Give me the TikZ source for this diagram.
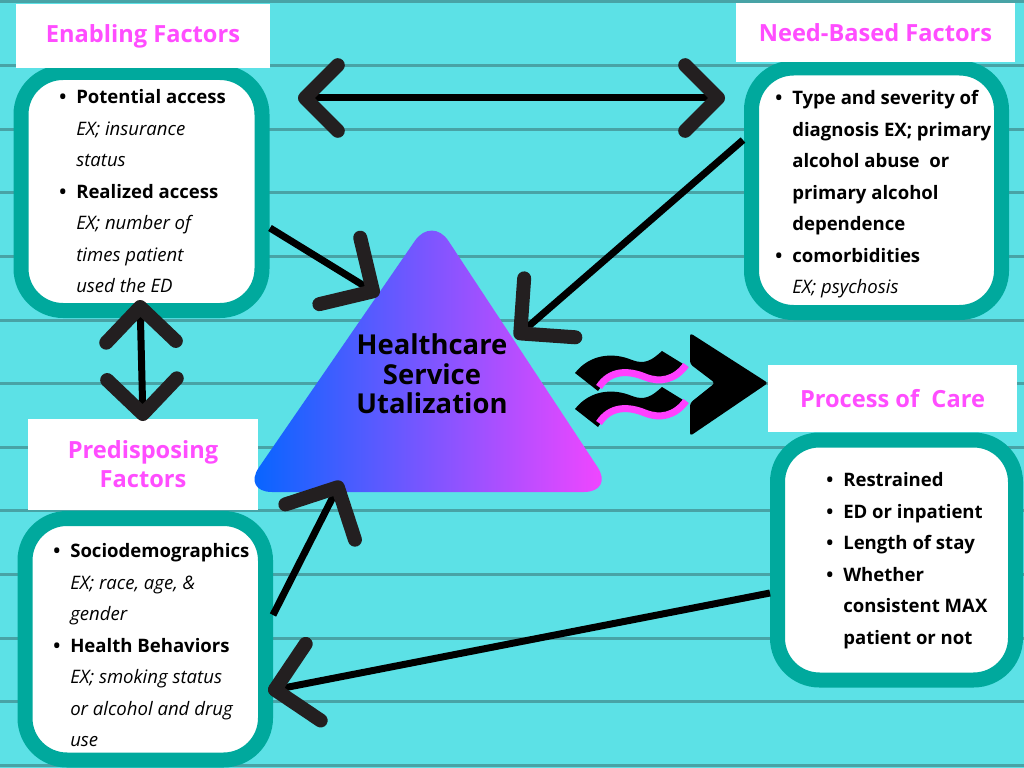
\documentclass[tikz,border=0pt]{standalone}
\usepackage{fontspec}
\setmainfont{Open Sans}
\usetikzlibrary{arrows.meta}

\definecolor{bgcyan}{HTML}{5CE1E6}
\definecolor{stripeteal}{HTML}{48A3A6}
\definecolor{boxteal}{HTML}{00A99D}
\definecolor{titlepink}{HTML}{FF4DFF}
\definecolor{chevdark}{HTML}{231F20}
\definecolor{triblue}{HTML}{0066FF}
\definecolor{tripink}{HTML}{F845FF}
\definecolor{wavepink}{HTML}{FF40FF}

\newlength{\px}\setlength{\px}{0.025cm}
\newcommand{\bl}{\llap{\textbf{\textbullet}\hspace{7pt}}}

\tikzset{
  factorbox/.style={draw=boxteal, line width=15\px, fill=white, rounded corners=42\px},
  titlebox/.style={fill=white, text=titlepink, align=center, inner sep=0pt,
    font=\fontsize{16.8}{20.5}\selectfont\bfseries},
  itemtext/.style={font=\fontsize{13.2}{22.4}\selectfont, align=left, inner sep=0pt, anchor=north west},
  link/.style={line width=7\px, black},
  Chev/.tip={Straight Barb[length=0.975cm 0 0, width=1.95cm 0 0, line width=0.35cm 0 0, round, color=chevdark]},
  ChevS/.tip={Straight Barb[length=0.82cm 0 0, width=1.64cm 0 0, line width=0.35cm 0 0, round, color=chevdark]},
  ChevM/.tip={Straight Barb[length=0.87cm 0 0, width=1.74cm 0 0, line width=0.35cm 0 0, round, color=chevdark]},
}

\begin{document}
\begin{tikzpicture}[x=0.025cm, y=-0.025cm]
\useasboundingbox (0,0) rectangle (1024,768);
\fill[bgcyan] (0,0) rectangle (1024,768);
\foreach \k in {0,...,12}
  \draw[stripeteal, line width=3\px] (0,2+63.6*\k) -- (1024,2+63.6*\k);

% factor boxes
\node[factorbox, minimum width=241\px, minimum height=238\px] (enabbox) at (141.5,191.5) {};
\node[factorbox, minimum width=250\px, minimum height=244.5\px] (needbox) at (876.5,190.25) {};
\node[factorbox, minimum width=240.5\px, minimum height=241.5\px] (predbox) at (145.25,639.25) {};
\node[factorbox, minimum width=238\px, minimum height=240\px] (procbox) at (896.5,560) {};

% titles
\node[titlebox, minimum width=254\px, minimum height=64\px] (enabtitle) at (143,36) {Enabling Factors};
\node[titlebox, minimum width=279\px, minimum height=59\px] (needtitle) at (875.5,32.5) {Need-Based Factors};
\node[titlebox, minimum width=230\px, minimum height=91\px] (predtitle) at (143,464.5) {Predisposing\\Factors};
\node[titlebox, minimum width=249\px, minimum height=67\px] (proctitle) at (892.5,398.5) {Process of\ \ Care};

% box contents
\node[itemtext] (enabtext) at (76,89.5) {\bl\textbf{Potential access}\\
  \textit{EX; insurance}\\
  \textit{status}\\
  \bl\textbf{Realized access}\\
  \textit{EX; number of}\\
  \textit{times patient}\\
  \textit{used the ED}};
\node[itemtext] (needtext) at (792,90.5) {\bl\textbf{Type and severity of}\\
  \textbf{diagnosis EX; primary}\\
  \textbf{alcohol abuse\ \ or}\\
  \textbf{primary alcohol}\\
  \textbf{dependence}\\
  \bl\textbf{comorbidities}\\
  \textit{EX; psychosis}};
\node[itemtext] (predtext) at (70,543.5) {\bl\textbf{Sociodemographics}\\
  \textit{EX; race, age, \&}\\
  \textit{gender}\\
  \bl\textbf{Health Behaviors}\\
  \textit{EX; smoking status}\\
  \textit{or alcohol and drug}\\
  \textit{use}};
\node[itemtext] (proctext) at (843,472.5) {\bl\textbf{Restrained}\\
  \bl\textbf{ED or inpatient}\\
  \bl\textbf{Length of stay}\\
  \bl\textbf{Whether}\\
  \textbf{consistent MAX}\\
  \textbf{patient or not}};

% centre triangle
\shade[left color=triblue, right color=tripink, rounded corners=30\px]
  (432,216) -- (614,492) -- (242,492) -- cycle;
\node[font=\fontsize{19.5}{21}\selectfont\bfseries, align=center] (hsu) at (432,374)
  {Healthcare\\Service\\Utalization};

% waves and forward arrow
\foreach \dy in {0,36} {
  \begin{scope}[yshift=-\dy*0.025cm]
    \fill[black] (575,373) .. controls (590,354) and (613,352) .. (632,360)
      .. controls (645,365) and (652,360) .. (662,351) -- (688,367)
      .. controls (675,383) and (660,386) .. (645,380)
      .. controls (628,373) and (610,372) .. (598,391) -- cycle;
    \draw[wavepink, line width=7\px] (599,387) .. controls (610,370) and (628,370) .. (645,377)
      .. controls (660,383) and (675,380) .. (686,365);
  \end{scope}
}
\fill[black, rounded corners=3\px] (690,333) -- (768,383) -- (690,436) -- (690,403)
  -- (715,383) -- (690,364) -- cycle;

% connectors
\coordinate (enabR) at (298,98);
\coordinate (needL) at (725,98);
\coordinate (enabD) at (270,228);
\coordinate (hsuL) at (379,295);
\coordinate (needD) at (743,140);
\coordinate (hsuR) at (515,338);
\coordinate (enabB) at (140,300);
\coordinate (predT) at (143,421);
\coordinate (predR) at (273,615);
\coordinate (hsuB) at (341,481);
\coordinate (procL) at (770,593);
\coordinate (predE) at (268,691);

\draw[link, {ChevS}-{ChevS}] (enabR) -- (needL);
\draw[link, -{Chev}] (enabD) -- (hsuL);
\draw[link, -{Chev}] (needD) -- (hsuR);
\draw[link, {ChevM}-{ChevM}] (enabB) -- (predT);
\draw[link, -{Chev}] (predR) -- (hsuB);
\draw[link, -{Chev}] (procL) -- (predE);
\end{tikzpicture}
\end{document}
